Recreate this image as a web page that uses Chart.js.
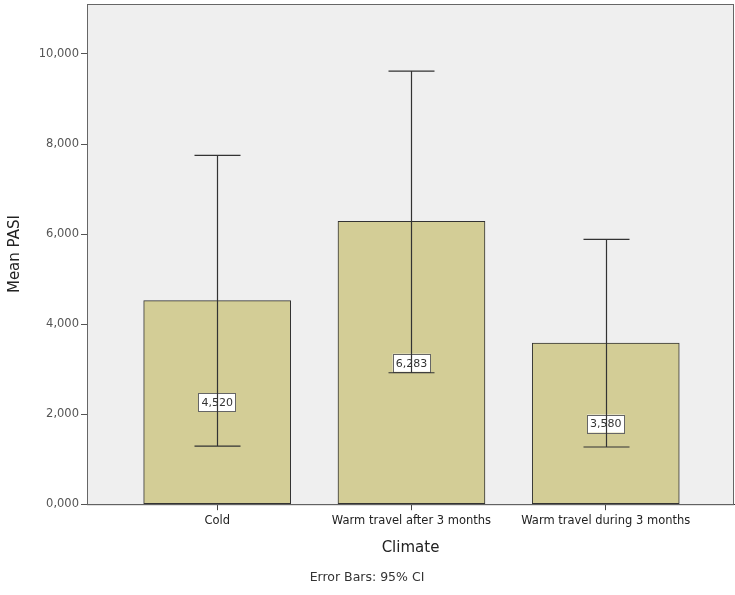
<!DOCTYPE html>
<html>
<head>
<meta charset="utf-8">
<script src="https://cdn.jsdelivr.net/npm/chart.js@4/dist/chart.umd.min.js"></script>
<style>
  html, body { margin: 0; padding: 0; background: #fff; }
  #wrap { width: 735px; height: 595px; }
</style>
</head>
<body>
<div id="wrap"><canvas id="myChart"></canvas></div>
<script>
var climate = ['Cold', 'Warm travel after 3 months', 'Warm travel during 3 months'];
var meanPasi = [4.520, 6.283, 3.580];
var ciLow = [1.29, 2.92, 1.27];
var ciHigh = [7.75, 9.62, 5.88];
var yTicks = [0, 2, 4, 6, 8, 10];

function comma(v) {
  return v.toFixed(3).replace('.', ',');
}

var frame = {
  id: 'frame',
  beforeDatasetsDraw: function (chart) {
    var a = chart.chartArea, c = chart.ctx;
    c.save();
    c.fillStyle = '#efefef';
    c.fillRect(a.left, a.top, a.right - a.left, a.bottom - a.top);
    c.strokeStyle = '#666';
    c.lineWidth = 1;
    c.strokeRect(a.left + 0.5, a.top + 0.5, a.right - a.left - 1, a.bottom - a.top);
    c.restore();
  },
  afterDatasetsDraw: function (chart) {
    var c = chart.ctx;
    var xs = chart.scales.x, ys = chart.scales.y;
    c.save();
    // value labels in white boxes at half bar height
    c.font = '11px "DejaVu Sans"';
    c.textAlign = 'center';
    c.textBaseline = 'middle';
    for (var i = 0; i < meanPasi.length; i++) {
      var x = xs.getPixelForValue(i);
      var y = ys.getPixelForValue(meanPasi[i] / 2);
      var t = comma(meanPasi[i]);
      var w = c.measureText(t).width + 6;
      c.fillStyle = '#fff';
      c.fillRect(x - w / 2, y - 9, w, 18);
      c.strokeStyle = '#666';
      c.strokeRect(Math.round(x - w / 2) + 0.5, Math.round(y - 9) + 0.5, Math.round(w), 18);
      c.fillStyle = '#333';
      c.fillText(t, x, y + 1);
    }
    // error bars
    c.strokeStyle = '#333';
    c.lineWidth = 1.2;
    for (var j = 0; j < meanPasi.length; j++) {
      var px = Math.round(xs.getPixelForValue(j)) + 0.5;
      var lo = ys.getPixelForValue(ciLow[j]);
      var hi = ys.getPixelForValue(ciHigh[j]);
      c.beginPath();
      c.moveTo(px, lo); c.lineTo(px, hi);
      c.moveTo(px - 23, lo); c.lineTo(px + 23, lo);
      c.moveTo(px - 23, hi); c.lineTo(px + 23, hi);
      c.stroke();
    }
    c.restore();
  }
};

var ctx = document.getElementById('myChart');
var myChart = new Chart(ctx, {
  type: 'bar',
  data: {
    datasets: [{
      label: 'Mean PASI',
      data: meanPasi.map(function (v, i) { return { x: i, y: v }; }),
      backgroundColor: '#d3cd96',
      borderColor: '#333',
      borderWidth: 1,
      borderSkipped: false,
      barThickness: 147
    }]
  },
  plugins: [frame],
  options: {
    responsive: true,
    maintainAspectRatio: false,
    animation: false,
    layout: { padding: { top: 4, right: 1, left: 0, bottom: 4 } },
    plugins: {
      legend: { display: false },
      tooltip: { enabled: false },
      subtitle: {
        display: true,
        position: 'bottom',
        text: 'Error Bars: 95% CI',
        color: '#333',
        font: { family: 'DejaVu Sans', size: 12.5 },
        padding: { top: 6, bottom: 6 }
      }
    },
    scales: {
      x: {
        type: 'linear',
        offset: false,
        min: -0.67,
        max: 2.66,
        afterBuildTicks: function (s) { s.ticks = climate.map(function (c, i) { return { value: i }; }); },
        ticks: {
          autoSkip: false,
          maxRotation: 0,
          color: '#222',
          font: { family: 'DejaVu Sans', size: 11.5 },
          padding: 4,
          callback: function (v) { return climate[v]; }
        },
        grid: { display: true, offset: false, drawOnChartArea: false, drawTicks: true, tickLength: 6, color: '#444' },
        border: { display: true, color: '#333' },
        title: {
          display: true,
          text: 'Climate',
          color: '#222',
          font: { family: 'DejaVu Sans', size: 15 },
          padding: { top: 7, bottom: 7 }
        }
      },
      y: {
        min: 0,
        max: 11.11,
        afterBuildTicks: function (s) { s.ticks = yTicks.map(function (v) { return { value: v }; }); },
        afterFit: function (s) { s.width = 87; s.paddingTop = 0; s.paddingBottom = 0; },
        ticks: {
          color: '#555',
          font: { family: 'DejaVu Sans', size: 11.5 },
          padding: 2,
          callback: function (v) { return comma(v); }
        },
        grid: { display: true, drawOnChartArea: false, drawTicks: true, tickLength: 6, color: '#555' },
        border: { display: true, color: '#333' },
        title: {
          display: true,
          text: 'Mean PASI',
          color: '#222',
          font: { family: 'DejaVu Sans', size: 15 },
          padding: { top: 6, bottom: 4 }
        }
      }
    }
  }
});
</script>
</body>
</html>
